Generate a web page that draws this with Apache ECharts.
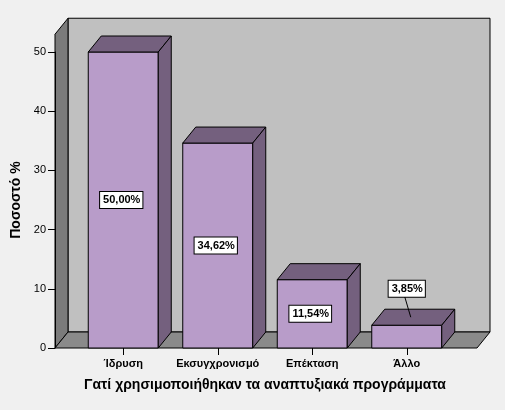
<!DOCTYPE html>
<html lang="el">
<head>
<meta charset="UTF-8">
<script src="https://cdn.jsdelivr.net/npm/echarts@6/dist/echarts.min.js"></script>
<style>
  html, body { margin: 0; padding: 0; background: #f0f0f0; }
  #chart { width: 505px; height: 410px; }
</style>
</head>
<body>
<div id="chart"></div>
<script>
  // data
  var categories = ['Ίδρυση', 'Εκσυγχρονισμό', 'Επέκταση', 'Άλλο'];
  var percents = [50.00, 34.62, 11.54, 3.85];
  var yTicks = [0, 10, 20, 30, 40, 50];

  var DX = 13, DY = -16; // depth of the 3D effect
  var stroke = '#000';

  function fmt(v) { return v.toFixed(2).replace('.', ',') + '%'; }

  var chart = echarts.init(document.getElementById('chart'));

  function renderWalls(params, api) {
    var cs = params.coordSys;
    var top = api.coord([0, 53])[1];
    var bottom = cs.y + cs.height;
    var l = cs.x - 21, r = cs.x + cs.width + 23;
    return {
      type: 'group',
      children: [
        { type: 'rect', shape: { x: l + DX, y: top + DY, width: r - l, height: bottom - top },
          style: { fill: '#c0c0c0', stroke: stroke, lineWidth: 1 } },
        { type: 'polygon', shape: { points: [[l, top], [l + DX, top + DY], [l + DX, bottom + DY], [l, bottom]] },
          style: { fill: '#7b7b7b', stroke: stroke, lineWidth: 1 } },
        { type: 'polygon', shape: { points: [[l, bottom], [r, bottom], [r + DX, bottom + DY], [l + DX, bottom + DY]] },
          style: { fill: '#8a8a8a', stroke: stroke, lineWidth: 1 } }
      ]
    };
  }

  function renderBar(params, api) {
    var idx = api.value(0), v = api.value(1);
    var p = api.coord([idx, v]);
    var base = api.coord([idx, 0]);
    var w = 70;
    var x0 = p[0] - w / 2, x1 = p[0] + w / 2, yt = p[1], yb = base[1];
    var children = [
      { type: 'rect', shape: { x: x0, y: yt, width: w, height: yb - yt },
        style: { fill: '#b89cc9', stroke: stroke, lineWidth: 1 } },
      { type: 'polygon', shape: { points: [[x0, yt], [x0 + DX, yt + DY], [x1 + DX, yt + DY], [x1, yt]] },
        style: { fill: '#74607e', stroke: stroke, lineWidth: 1 } },
      { type: 'polygon', shape: { points: [[x1, yt], [x1 + DX, yt + DY], [x1 + DX, yb + DY], [x1, yb]] },
        style: { fill: '#74607e', stroke: stroke, lineWidth: 1 } }
    ];
    var lx = p[0], ly;
    if (v < 6) {
      ly = api.coord([idx, 10])[1];
      children.push({ type: 'line', shape: { x1: p[0] + 4, y1: yt + DY / 2, x2: lx - 2, y2: ly + 8 },
        style: { stroke: stroke, lineWidth: 1 } });
    } else {
      ly = api.coord([idx, v / 2])[1];
      lx = p[0] - 2;
    }
    children.push({ type: 'text', x: lx, y: ly,
      style: { text: fmt(v), fill: '#000', font: 'bold 11px Arial, "Liberation Sans", sans-serif',
        align: 'center', verticalAlign: 'middle', backgroundColor: '#fff',
        borderColor: '#000', borderWidth: 1, padding: [3, 2, 2, 3] } });
    return { type: 'group', children: children };
  }

  chart.setOption({
    backgroundColor: '#f0f0f0',
    animation: false,
    grid: { left: 76, right: 51, top: 52, bottom: 62 },
    xAxis: {
      type: 'category',
      data: categories,
      axisLine: { show: false },
      axisTick: { show: true, alignWithLabel: true, length: 7, lineStyle: { color: '#000' } },
      axisLabel: { interval: 0, color: '#000', fontWeight: 'bold', fontSize: 11, fontFamily: 'Arial, "Liberation Sans", sans-serif', margin: 10 },
      name: 'Γατί χρησιμοποιήθηκαν τα αναπτυξιακά προγράμματα',
      nameLocation: 'middle',
      nameGap: 30,
      nameTextStyle: { color: '#000', fontWeight: 'bold', fontSize: 14, fontFamily: 'Arial, "Liberation Sans", sans-serif' },
      z: 10
    },
    yAxis: {
      type: 'value',
      min: yTicks[0],
      max: yTicks[yTicks.length - 1],
      interval: 10,
      offset: 21,
      axisLine: { show: true, lineStyle: { color: '#000' } },
      axisTick: { show: true, length: 7, lineStyle: { color: '#000' } },
      splitLine: { show: false },
      axisLabel: { color: '#000', fontSize: 11, fontFamily: 'Arial, "Liberation Sans", sans-serif', margin: 9 },
      name: 'Ποσοστό %',
      nameLocation: 'middle',
      nameGap: 29,
      nameTextStyle: { color: '#000', fontWeight: 'bold', fontSize: 14, fontFamily: 'Arial, "Liberation Sans", sans-serif' },
      z: 10
    },
    series: [
      { type: 'custom', renderItem: renderWalls, data: [[0, 0]], z: 1, silent: true, clip: false },
      { type: 'custom', renderItem: renderBar, data: percents.map(function (v, i) { return [i, v]; }), z: 5, clip: false }
    ]
  });
</script>
</body>
</html>
